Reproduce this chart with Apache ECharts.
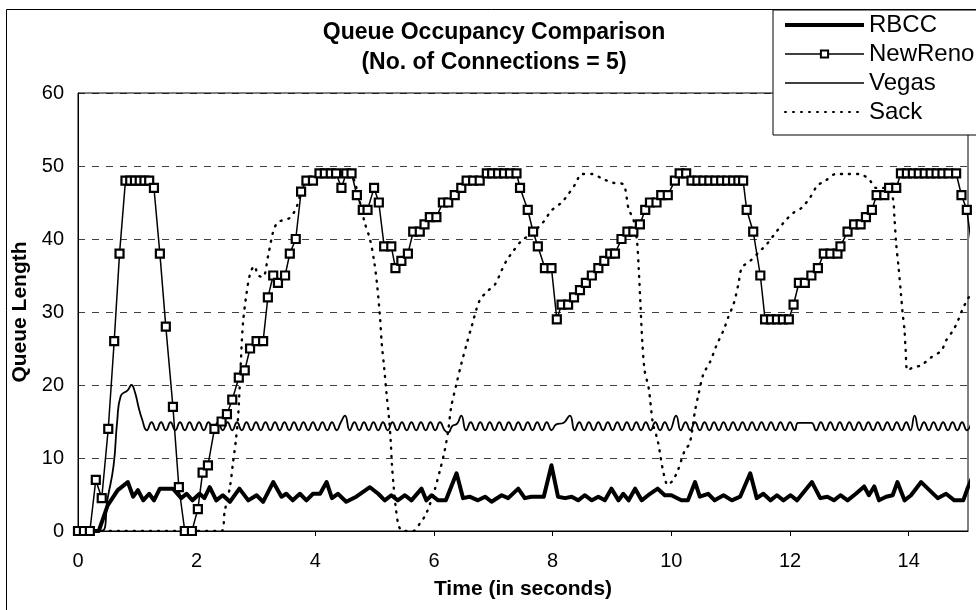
<!DOCTYPE html>
<html>
<head>
<meta charset="utf-8">
<script src="https://cdn.jsdelivr.net/npm/echarts@6/dist/echarts.min.js"></script>
<style>
html,body{margin:0;padding:0;background:#fff;}
#chart{width:976px;height:610px;}
</style>
</head>
<body>
<div id="chart"></div>
<script>
// ---- data (time in seconds, queue length in packets) ----
const titleLines = ['Queue Occupancy Comparison', '(No. of Connections = 5)'];
const seriesNames = ['RBCC', 'NewReno', 'Vegas', 'Sack'];
const xTicks = [0, 2, 4, 6, 8, 10, 12, 14];
const yTicks = [0, 10, 20, 30, 40, 50, 60];

const rbcc = [[0,0],[0.35,0],[0.5,3.5],[0.67,5.6],[0.84,6.7],[0.93,4.7],[1.01,5.6],[1.10,4.2],[1.20,5.1],[1.28,4.2],[1.38,5.8],[1.60,5.8],[1.74,4.5],[1.83,5.1],[1.93,4.2],[2.05,5.1],[2.13,4.5],[2.22,6.0],[2.33,4.2],[2.44,4.9],[2.56,4.0],[2.72,5.8],[2.87,4.2],[3.01,4.9],[3.12,4.0],[3.29,6.7],[3.43,4.7],[3.51,5.1],[3.62,4.2],[3.74,5.1],[3.85,4.2],[3.96,5.1],[4.08,5.1],[4.19,6.7],[4.28,4.5],[4.38,5.1],[4.52,4.0],[4.69,4.7],[4.92,6.0],[5.06,5.1],[5.17,4.2],[5.28,4.9],[5.39,4.2],[5.51,4.9],[5.62,4.2],[5.79,5.8],[5.87,4.2],[5.96,4.9],[6.07,4.2],[6.20,4.2],[6.38,7.9],[6.49,4.5],[6.60,4.7],[6.74,4.2],[6.86,4.7],[6.97,4.0],[7.14,4.9],[7.25,4.5],[7.42,5.8],[7.53,4.5],[7.64,4.7],[7.85,4.7],[7.98,9.0],[8.09,4.7],[8.21,4.5],[8.32,4.7],[8.43,4.2],[8.54,4.9],[8.66,4.2],[8.77,4.7],[8.88,4.2],[8.99,5.8],[9.11,4.2],[9.19,5.1],[9.28,4.2],[9.39,5.8],[9.50,4.2],[9.61,4.9],[9.77,5.8],[9.89,4.9],[10.0,4.9],[10.17,4.2],[10.28,4.2],[10.40,6.7],[10.48,4.7],[10.62,5.1],[10.73,4.2],[10.88,4.9],[11.02,4.2],[11.16,4.7],[11.33,7.9],[11.44,4.5],[11.55,5.1],[11.67,4.2],[11.78,4.9],[11.89,4.2],[12.01,4.9],[12.12,4.2],[12.37,6.7],[12.51,4.5],[12.63,4.7],[12.74,4.2],[12.85,4.9],[12.97,4.2],[13.11,5.1],[13.25,6.1],[13.33,4.9],[13.42,6.1],[13.50,4.2],[13.62,4.7],[13.73,4.9],[13.81,6.7],[13.93,4.2],[14.04,4.9],[14.21,6.7],[14.35,5.6],[14.49,4.5],[14.63,5.1],[14.77,4.2],[14.92,4.2],[15.0,6.0],[15.08,7.5]];

const newreno = [[0,0],[0.1,0],[0.2,0],[0.3,7],[0.4,4.5],[0.51,14],[0.61,26],[0.70,38],[0.80,48],[0.88,48],[0.96,48],[1.04,48],[1.12,48],[1.20,48],[1.28,47],[1.38,38],[1.48,28],[1.60,17],[1.70,6],[1.80,0],[1.92,0],[2.02,3],[2.10,8],[2.19,9],[2.30,14],[2.42,15],[2.51,16],[2.60,18],[2.71,21],[2.81,22],[2.90,25],[3.01,26],[3.12,26],[3.20,32],[3.29,35],[3.37,34],[3.49,35],[3.57,38],[3.67,40],[3.76,46.5],[3.85,48],[3.96,48],[4.07,49],[4.16,49],[4.26,49],[4.35,49],[4.44,47],[4.52,49],[4.61,49],[4.70,46],[4.80,44],[4.88,44],[4.99,47],[5.07,45],[5.16,39],[5.28,39],[5.35,36],[5.45,37],[5.56,38],[5.65,41],[5.76,41],[5.84,42],[5.93,43],[6.04,43],[6.15,45],[6.24,45],[6.35,46],[6.46,47],[6.55,48],[6.66,48],[6.77,48],[6.89,49],[6.98,49],[7.08,49],[7.18,49],[7.28,49],[7.39,49],[7.45,47],[7.58,44],[7.67,41],[7.75,39],[7.87,36],[7.98,36],[8.07,29],[8.15,31],[8.26,31],[8.36,32],[8.46,33],[8.56,34],[8.66,35],[8.77,36],[8.87,37],[8.97,38],[9.05,38],[9.16,40],[9.26,41],[9.36,41],[9.47,42],[9.56,44],[9.64,45],[9.75,45],[9.83,46],[9.94,46],[10.06,48],[10.14,49],[10.25,49],[10.34,48],[10.44,48],[10.54,48],[10.64,48],[10.74,48],[10.84,48],[10.94,48],[11.04,48],[11.13,48],[11.21,48],[11.27,44],[11.38,41],[11.50,35],[11.58,29],[11.68,29],[11.78,29],[11.88,29],[11.98,29],[12.06,31],[12.15,34],[12.25,34],[12.36,35],[12.47,36],[12.57,38],[12.68,38],[12.80,38],[12.85,39],[12.97,41],[13.08,42],[13.19,42],[13.28,43],[13.38,44],[13.46,46],[13.59,46],[13.67,47],[13.79,47],[13.87,49],[13.97,49],[14.07,49],[14.17,49],[14.27,49],[14.37,49],[14.47,49],[14.57,49],[14.67,49],[14.80,49],[14.89,46],[14.98,44],[15.08,38]];

const vegas = [[0,0],[0.4,0],[0.5,4.5],[0.6,9],[0.66,15],[0.72,18.5],[0.84,19.3],[0.9,20],[0.96,19],[1.02,17],[1.08,15.3],
[1.16,13.8],[1.24,14.9],[1.32,13.8],[1.40,14.9],[1.48,13.8],[1.56,14.9],[1.64,13.8],[1.72,14.9],[1.80,13.8],[1.88,14.9],[1.96,13.8],[2.04,14.9],[2.12,13.8],[2.20,14.9],[2.28,13.8],[2.36,14.9],[2.44,13.8],[2.52,14.9],[2.60,13.8],[2.68,14.9],[2.76,13.8],[2.84,14.9],[2.92,13.8],[3.00,14.9],[3.08,13.8],[3.16,14.9],[3.24,13.8],[3.32,14.9],[3.40,13.8],[3.48,14.9],[3.56,13.8],[3.64,14.9],[3.72,13.8],[3.80,14.9],[3.88,13.8],[3.96,14.9],[4.04,13.8],[4.12,14.9],[4.20,13.8],[4.28,14.9],[4.36,13.8],
[4.43,14.9],[4.50,15.8],[4.58,13.8],
[4.66,14.9],[4.74,13.8],[4.82,14.9],[4.90,13.8],[4.98,14.9],[5.06,13.8],[5.14,14.9],[5.22,13.8],[5.30,14.9],[5.38,13.8],[5.46,14.9],[5.54,13.8],[5.62,14.9],[5.70,13.8],[5.78,14.9],[5.86,13.8],[5.94,14.9],[6.02,13.8],[6.10,14.9],[6.18,13.8],
[6.24,13.5],[6.31,14.4],[6.39,14.7],[6.46,15.8],[6.54,13.8],
[6.62,14.9],[6.70,13.8],[6.78,14.9],[6.86,13.8],[6.94,14.9],[7.02,13.8],[7.10,14.9],[7.18,13.8],[7.26,14.9],[7.34,13.8],[7.42,14.9],[7.50,13.8],[7.58,14.9],[7.66,13.8],[7.74,14.9],[7.82,13.8],[7.90,14.9],[7.98,13.8],
[8.06,14.6],[8.18,14.8],[8.29,15.8],[8.37,13.8],
[8.45,14.9],[8.53,13.8],[8.61,14.9],[8.69,13.8],[8.77,14.9],[8.85,13.8],[8.93,14.9],[9.01,13.8],[9.09,14.9],[9.17,13.8],[9.25,14.9],[9.33,13.8],[9.41,14.9],[9.49,13.8],[9.57,14.9],[9.65,13.8],[9.73,14.9],[9.81,13.8],[9.89,14.9],[9.97,13.8],
[10.08,15.8],[10.16,13.8],
[10.24,14.9],[10.32,13.8],[10.40,14.9],[10.48,13.8],[10.56,14.9],[10.64,13.8],[10.72,14.9],[10.80,13.8],[10.88,14.9],[10.96,13.8],[11.04,14.9],[11.12,13.8],[11.20,14.9],[11.28,13.8],[11.36,14.9],[11.44,13.8],[11.52,14.9],[11.60,13.8],[11.68,14.9],[11.76,13.8],[11.84,14.9],[11.92,13.8],[12.00,14.9],[12.08,13.8],
[12.14,14.8],[12.36,14.8],[12.44,13.8],
[12.52,14.9],[12.60,13.8],[12.68,14.9],[12.76,13.8],[12.84,14.9],[12.92,13.8],[13.00,14.9],[13.08,13.8],[13.16,14.9],[13.24,13.8],[13.32,14.9],[13.40,13.8],[13.48,14.9],[13.56,13.8],[13.64,14.9],[13.72,13.8],[13.80,14.9],[13.88,13.8],[13.96,14.9],[14.03,13.8],
[14.10,15.8],[14.18,13.8],
[14.26,14.9],[14.34,13.8],[14.42,14.9],[14.50,13.8],[14.58,14.9],[14.66,13.8],[14.74,14.9],[14.82,13.8],[14.90,14.9],[14.98,13.8],[15.06,14.9]];

const sack = [[0,0],[2.42,0],[2.47,2.6],[2.56,6],[2.61,9.2],[2.66,12.4],[2.70,15.8],[2.74,22.4],[2.78,28.4],[2.84,32.5],[2.90,35.2],[2.97,36.3],[3.04,35],[3.12,34.8],[3.20,37.5],[3.29,41],[3.37,42.3],[3.57,42.9],[3.68,44.3],[3.78,46.8],[3.90,48.2],[4.05,49],[4.60,49],[4.66,47.9],[4.72,46.1],[4.83,42.3],[4.92,40],[4.99,37],[5.04,33.8],[5.09,29.3],[5.12,25.6],[5.16,22.4],[5.20,18.8],[5.24,15.6],[5.27,12.4],[5.29,9.2],[5.32,6.1],[5.36,2.9],[5.41,0.6],[5.48,0],[5.65,0],[5.76,1],[5.87,2.4],[6.01,5.6],[6.10,8.3],[6.18,11],[6.24,13.8],[6.29,17],[6.38,20.2],[6.46,22.9],[6.55,25.6],[6.63,27.9],[6.77,31.6],[6.91,32.9],[7.03,33.8],[7.14,35.7],[7.22,37],[7.34,38.4],[7.48,39.8],[7.64,40.7],[7.84,42.3],[7.98,43.9],[8.15,45],[8.26,46.1],[8.38,47.5],[8.49,48.9],[8.66,48.9],[8.85,48.2],[9.02,47.7],[9.19,47.5],[9.28,44.1],[9.36,42.7],[9.42,39.8],[9.45,36],[9.48,31],[9.51,26],[9.55,22],[9.62,19.5],[9.69,14.7],[9.77,12.4],[9.86,8.3],[9.94,6.3],[10.03,7],[10.11,8.3],[10.23,11.1],[10.31,12],[10.40,16.5],[10.45,18.4],[10.54,21.5],[10.65,23.1],[10.76,25.4],[10.88,27.5],[10.96,29.3],[11.05,31.1],[11.13,33.8],[11.19,36.1],[11.33,37],[11.50,38.4],[11.61,39.3],[11.78,41.1],[11.92,42.5],[12.06,43.6],[12.20,44.3],[12.34,45.7],[12.46,47.3],[12.60,48],[12.77,48.9],[12.97,48.9],[13.17,48.9],[13.33,48.2],[13.45,47],[13.62,47],[13.73,45.7],[13.76,42.9],[13.79,39.3],[13.83,36.1],[13.87,32.5],[13.90,29.7],[13.93,27.5],[13.95,24.7],[13.98,22],[14.07,22.4],[14.21,22.7],[14.38,23.8],[14.55,24.7],[14.63,26.1],[14.75,27.5],[14.83,28.8],[14.92,30.6],[15.0,31.8],[15.08,33]];

// ---- chart ----
const FONT = '"Liberation Sans", Arial, sans-serif';
const chart = echarts.init(document.getElementById('chart'), null, {renderer: 'canvas'});

const hiddenDot = {opacity: 0};
const option = {
  backgroundColor: '#fff',
  animation: false,
  graphic: [
    {type: 'rect', z: 0, silent: true,
     shape: {x: 6.5, y: 9.5, width: 1000, height: 700},
     style: {fill: 'none', stroke: '#000', lineWidth: 1}},
    {type: 'text', z: 10, style: {text: titleLines[0], x: 494, y: 33, textAlign: 'center', textVerticalAlign: 'middle', font: 'bold 23px ' + FONT, fill: '#000'}},
    {type: 'text', z: 10, style: {text: titleLines[1], x: 494, y: 63, textAlign: 'center', textVerticalAlign: 'middle', font: 'bold 23px ' + FONT, fill: '#000'}}
  ],
  grid: {left: 78, right: 8, top: 93, bottom: 79, show: true, borderColor: '#000', borderWidth: 1, backgroundColor: 'transparent'},
  legend: {
    data: [
      {name: seriesNames[0], itemStyle: hiddenDot, lineStyle: {width: 4}},
      {name: seriesNames[1], lineStyle: {width: 1.5}},
      {name: seriesNames[2], itemStyle: hiddenDot, lineStyle: {width: 1.5}},
      {name: seriesNames[3], itemStyle: hiddenDot, lineStyle: {width: 2}}
    ],
    orient: 'vertical',
    left: 773, top: 10,
    backgroundColor: '#fff',
    borderColor: '#000', borderWidth: 1,
    padding: [3, 40, 11, 10],
    itemWidth: 79, itemHeight: 9, itemGap: 5,
    textStyle: {fontFamily: FONT, fontSize: 24, color: '#000'},
    z: 20
  },
  xAxis: {
    type: 'value', min: 0, max: 15, interval: 2,
    name: 'Time (in seconds)', nameLocation: 'middle', nameGap: 48,
    nameTextStyle: {fontFamily: FONT, fontSize: 21, fontWeight: 'bold', color: '#000'},
    axisLine: {show: true, lineStyle: {color: '#000', width: 1}},
    axisTick: {show: true, inside: false, length: 5, lineStyle: {color: '#000'}},
    axisLabel: {fontFamily: FONT, fontSize: 20, color: '#000', margin: 20, showMaxLabel: false,
      formatter: v => xTicks.includes(v) ? String(v) : ''},
    splitLine: {show: false}
  },
  yAxis: {
    type: 'value', min: 0, max: 60, interval: 10,
    name: 'Queue Length', nameLocation: 'middle', nameGap: 41, nameRotate: 90,
    nameTextStyle: {fontFamily: FONT, fontSize: 21, fontWeight: 'bold', color: '#000'},
    axisLine: {show: true, lineStyle: {color: '#000', width: 1}},
    axisTick: {show: false},
    axisLabel: {fontFamily: FONT, fontSize: 20, color: '#000', margin: 14,
      formatter: v => yTicks.includes(v) ? String(v) : ''},
    splitLine: {show: true, lineStyle: {color: '#000', width: 1, type: [7, 7], opacity: 0.75}}
  },
  series: [
    {name: seriesNames[0], type: 'line', data: rbcc, showSymbol: false, symbol: 'none',
     lineStyle: {color: '#000', width: 4, join: 'round'}, itemStyle: {color: '#000'}, z: 5},
    {name: seriesNames[1], type: 'line', data: newreno, symbol: 'rect', symbolSize: 8, showSymbol: true,
     lineStyle: {color: '#000', width: 1.5},
     itemStyle: {color: '#fff', borderColor: '#000', borderWidth: 2.2}, z: 6},
    {name: seriesNames[2], type: 'line', data: vegas, showSymbol: false, symbol: 'none', smooth: 0.5,
     lineStyle: {color: '#000', width: 1.8}, itemStyle: {color: '#000'}, z: 4},
    {name: seriesNames[3], type: 'line', data: sack, showSymbol: false, symbol: 'none', smooth: 0.3,
     lineStyle: {color: '#000', width: 2.4, type: [1, 7], cap: 'round'}, itemStyle: {color: '#000'}, z: 3}
  ]
};
chart.setOption(option);
</script>
</body>
</html>
